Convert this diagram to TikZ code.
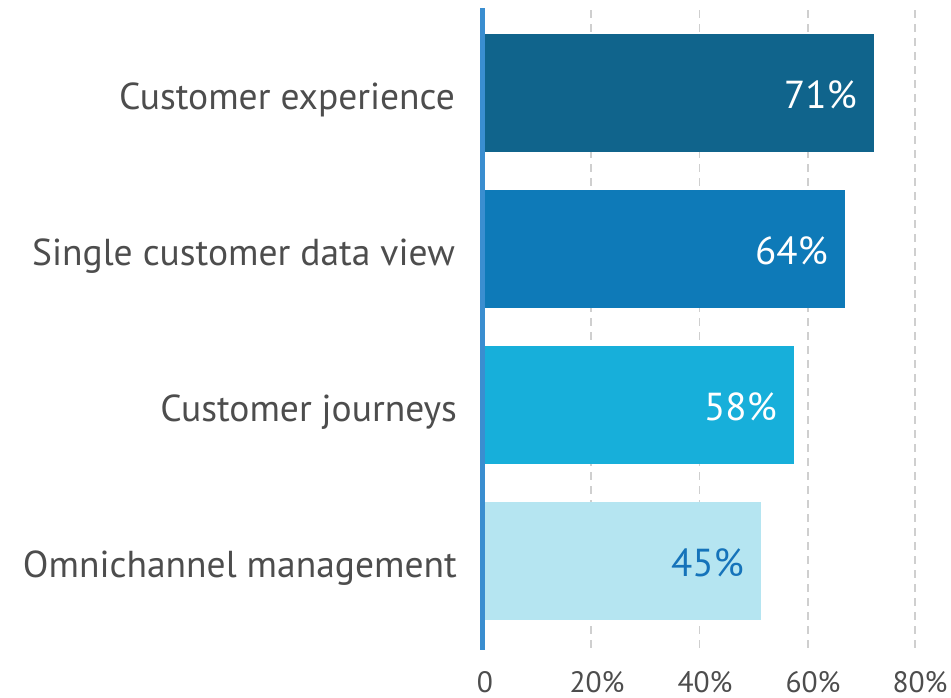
\documentclass[tikz,border=0pt]{standalone}
\usepackage{fontspec}
\setmainfont{PT Sans}
\definecolor{txtgray}{HTML}{4D4D4D}
\definecolor{gridgray}{HTML}{CFCFCF}
\definecolor{axisblue}{HTML}{3A8ED0}
\definecolor{barA}{HTML}{10648C}
\definecolor{barB}{HTML}{0E7AB8}
\definecolor{barC}{HTML}{17AFDA}
\definecolor{barD}{HTML}{B5E5F1}
\definecolor{valblue}{HTML}{1573BA}
\begin{document}
\begin{tikzpicture}[x=1pt,y=-1pt,
  catlabel/.style={anchor=base east,text=txtgray,font=\fontsize{37.5}{42}\selectfont,inner sep=0pt},
  vallabel/.style={anchor=base east,text=white,font=\fontsize{39}{43}\selectfont,inner sep=0pt},
  ticklabel/.style={anchor=base,text=txtgray,font=\fontsize{29.5}{32}\selectfont,inner sep=0pt,text depth=0pt},
  gridline/.style={draw=gridgray,line width=1.6pt,dash pattern=on 8pt off 6pt},
  barbox/.style={anchor=north west,inner sep=0pt,minimum height=118pt}]
\useasboundingbox (0,0) rectangle (951,697);
\fill[white] (0,0) rectangle (951,697);
% grid lines
\foreach \gx/\nm in {590.7/g20,699.3/g40,807.7/g60,914.7/g80}{
  \coordinate (\nm t) at (\gx,10);
  \coordinate (\nm b) at (\gx,650);
  \draw[gridline] (\nm t) -- (\nm b);
}
% bars
\node[barbox,fill=barA,minimum width=392pt] (b1) at (482,34) {};
\node[barbox,fill=barB,minimum width=363pt] (b2) at (482,190) {};
\node[barbox,fill=barC,minimum width=312pt] (b3) at (482,346) {};
\node[barbox,fill=barD,minimum width=279pt] (b4) at (482,502) {};
% axis
\coordinate (axt) at (482.3,8);
\coordinate (axb) at (482.3,650);
\draw[axisblue,line width=5pt] (axt) -- (axb);
% category labels
\node[catlabel] (c1) at (455,109) {Customer experience};
\node[catlabel] (c2) at (455,265) {Single customer data view};
\node[catlabel] (c3) at (457,421) {Customer journeys};
\node[catlabel] (c4) at (457,577) {Omnichannel management};
% value labels
\node[vallabel] (v1) at (857,108) {71\%};
\node[vallabel] (v2) at (828,264) {64\%};
\node[vallabel] (v3) at (777,420) {58\%};
\node[vallabel,text=valblue] (v4) at (744,576) {45\%};
% tick labels
\node[ticklabel] (t0) at (485,692) {0};
\node[ticklabel] (t20) at (597,692) {20\%};
\node[ticklabel] (t40) at (705,692) {40\%};
\node[ticklabel] (t60) at (813,692) {60\%};
\node[ticklabel] (t80) at (920,692) {80\%};
\end{tikzpicture}
\end{document}
